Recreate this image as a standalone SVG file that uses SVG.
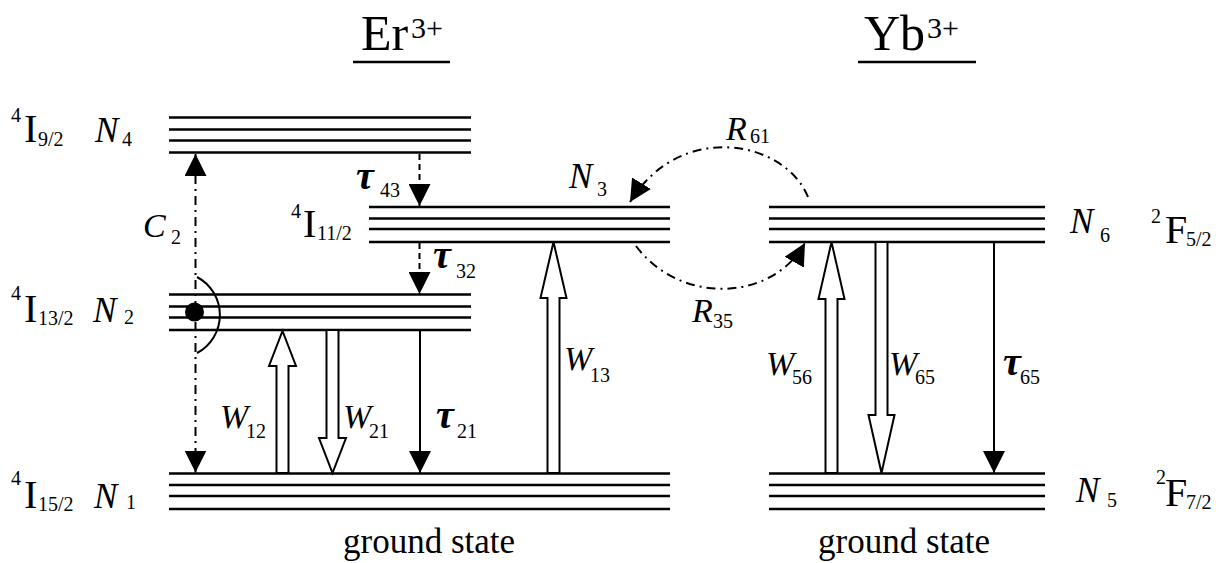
<svg xmlns="http://www.w3.org/2000/svg" width="1219" height="563" viewBox="0 0 1219 563">
<style>
text{font-family:"Liberation Serif","Times New Roman","DejaVu Serif",serif;fill:#000}
.ttl{font-size:50px}
.sup{font-size:30px}
.big{font-size:40px}
.n{font-size:35px;font-style:italic}
.sub{font-size:20px}
.lbl{font-size:34px;font-style:italic}
.tau{font-size:40px;font-style:italic;font-weight:bold}
.gs{font-size:35px}
.lv{stroke:#000;stroke-width:2.5}
.ln{fill:none;stroke:#000;stroke-width:2}
.hol{fill:#fff;stroke:#000;stroke-width:2;stroke-linejoin:miter}
.dash{stroke-dasharray:6 4}
.dd{stroke-dasharray:9 5 2 5}
</style>
<defs>
<marker id="ah" viewBox="0 0 22 22" markerUnits="userSpaceOnUse" markerWidth="22" markerHeight="22" refX="22" refY="11" orient="auto-start-reverse">
<path d="M0,0 L22,11 L0,22 Z" fill="#000"/>
</marker>
</defs>
<rect width="1219" height="563" fill="#fff"/>

<g id="title-er">
<text class="ttl" x="361" y="50">Er</text>
<text class="sup" x="411" y="38">3+</text>
<line class="lv" x1="353" y1="62" x2="450" y2="62" stroke-width="2"/>
</g>
<g id="title-yb">
<text class="ttl" x="864" y="50">Yb</text>
<text class="sup" x="927" y="38">3+</text>
<line class="lv" x1="858" y1="62" x2="976" y2="62" stroke-width="2"/>
</g>

<g id="N4">
<line class="lv" x1="169" y1="117.5" x2="471" y2="117.5"/>
<line class="lv" x1="169" y1="129.5" x2="471" y2="129.5"/>
<line class="lv" x1="169" y1="140.5" x2="471" y2="140.5"/>
<line class="lv" x1="169" y1="152.5" x2="471" y2="152.5"/>
<text class="sub" x="11" y="122">4</text>
<text class="big" x="24" y="142">I</text>
<text class="sub" x="38" y="146">9/2</text>
<text class="n" x="95" y="142">N</text>
<text class="sub" x="122" y="146">4</text>
</g>

<g id="N3">
<line class="lv" x1="369" y1="207" x2="670" y2="207"/>
<line class="lv" x1="369" y1="218.5" x2="670" y2="218.5"/>
<line class="lv" x1="369" y1="229" x2="670" y2="229"/>
<line class="lv" x1="369" y1="242" x2="670" y2="242"/>
<text class="sub" x="291" y="218">4</text>
<text class="big" x="303" y="237">I</text>
<text class="sub" x="317" y="240">11/2</text>
<text class="n" x="569" y="188" font-size="30">N</text>
<text class="sub" x="597" y="196">3</text>
</g>

<g id="N2">
<line class="lv" x1="169" y1="294.5" x2="471" y2="294.5"/>
<line class="lv" x1="169" y1="306.5" x2="471" y2="306.5"/>
<line class="lv" x1="169" y1="317.5" x2="471" y2="317.5"/>
<line class="lv" x1="169" y1="330" x2="471" y2="330"/>
<text class="sub" x="11" y="300">4</text>
<text class="big" x="24" y="322">I</text>
<text class="sub" x="38" y="325">13/2</text>
<text class="n" x="93" y="322">N</text>
<text class="sub" x="124" y="324">2</text>
<circle cx="194.5" cy="312" r="9.5" fill="#000"/>
<path class="ln" d="M197,277 A43,43 0 0 1 197,353"/>
</g>

<g id="N1">
<line class="lv" x1="169" y1="473.5" x2="670" y2="473.5"/>
<line class="lv" x1="169" y1="485" x2="670" y2="485"/>
<line class="lv" x1="169" y1="496" x2="670" y2="496"/>
<line class="lv" x1="169" y1="509" x2="670" y2="509"/>
<text class="sub" x="11" y="485">4</text>
<text class="big" x="24" y="508">I</text>
<text class="sub" x="38" y="511">15/2</text>
<text class="n" x="94" y="508">N</text>
<text class="sub" x="126" y="509">1</text>
<text class="gs" x="343" y="553">ground state</text>
</g>

<g id="N6">
<line class="lv" x1="769" y1="207" x2="1045" y2="207"/>
<line class="lv" x1="769" y1="218.5" x2="1045" y2="218.5"/>
<line class="lv" x1="769" y1="229" x2="1045" y2="229"/>
<line class="lv" x1="769" y1="242" x2="1045" y2="242"/>
<text class="n" x="1070" y="233" font-size="32">N</text>
<text class="sub" x="1100" y="242">6</text>
<text class="sub" x="1151" y="223">2</text>
<text class="big" x="1165" y="243">F</text>
<text class="sub" x="1186" y="246">5/2</text>
</g>

<g id="N5">
<line class="lv" x1="769" y1="473.5" x2="1045" y2="473.5"/>
<line class="lv" x1="769" y1="485" x2="1045" y2="485"/>
<line class="lv" x1="769" y1="496" x2="1045" y2="496"/>
<line class="lv" x1="769" y1="509" x2="1045" y2="509"/>
<text class="n" x="1076" y="502" font-size="32">N</text>
<text class="sub" x="1107" y="507">5</text>
<text class="sub" x="1156" y="484">2</text>
<text class="big" x="1165" y="506">F</text>
<text class="sub" x="1186" y="509">7/2</text>
<text class="gs" x="818" y="553">ground state</text>
</g>

<g id="connectors">
<line class="ln dd" x1="195.5" y1="154" x2="195.5" y2="472.5" marker-start="url(#ah)" marker-end="url(#ah)"/>
<text class="lbl" x="143" y="237" font-size="33">C</text>
<text class="sub" x="171" y="244">2</text>
<line class="ln dash" x1="419.5" y1="154" x2="419.5" y2="206" marker-end="url(#ah)"/>
<text class="tau" x="356" y="189">τ</text>
<text class="sub" x="380" y="197">43</text>
<line class="ln dash" x1="419.5" y1="243" x2="419.5" y2="294" marker-end="url(#ah)"/>
<text class="tau" x="433" y="268">τ</text>
<text class="sub" x="456" y="278">32</text>
<path class="hol" d="M276.5,473 V366 H269 L282.5,331 L296,366 H288.5 V473 Z"/>
<text class="lbl" x="220" y="428">W</text>
<text class="sub" x="246" y="438">12</text>
<path class="hol" d="M326.5,330 V438 H319 L332.5,473 L346,438 H338.5 V330 Z"/>
<text class="lbl" x="343" y="428">W</text>
<text class="sub" x="369" y="438">21</text>
<line class="ln" x1="420" y1="330" x2="420" y2="473" marker-end="url(#ah)"/>
<text class="tau" x="436" y="428">τ</text>
<text class="sub" x="457" y="438">21</text>
<path class="hol" d="M547.5,473 V298 H540.5 L553.5,242 L566.5,298 H559.5 V473 Z"/>
<text class="lbl" x="564" y="370">W</text>
<text class="sub" x="590" y="382">13</text>
<path class="ln dd" d="M808,197 C785,140 680,120 630,202" marker-end="url(#ah)"/>
<text class="lbl" x="726" y="140" font-size="31">R</text>
<text class="sub" x="750" y="143">61</text>
<path class="ln dd" d="M636,246 C680,305 772,302 805,243" marker-end="url(#ah)"/>
<text class="lbl" x="692" y="322" font-size="31">R</text>
<text class="sub" x="713" y="328">35</text>
<path class="hol" d="M825.5,473 V299 H818.5 L831.5,242 L844.5,299 H837.5 V473 Z"/>
<text class="lbl" x="766" y="375">W</text>
<text class="sub" x="792" y="384">56</text>
<path class="hol" d="M875.5,242 V415 H868.5 L881.5,473 L894.5,415 H887.5 V242 Z"/>
<text class="lbl" x="889" y="375">W</text>
<text class="sub" x="915" y="384">65</text>
<line class="ln" x1="994" y1="242" x2="994" y2="473" marker-end="url(#ah)"/>
<text class="tau" x="1003" y="375">τ</text>
<text class="sub" x="1020" y="384">65</text>
</g>
</svg>
